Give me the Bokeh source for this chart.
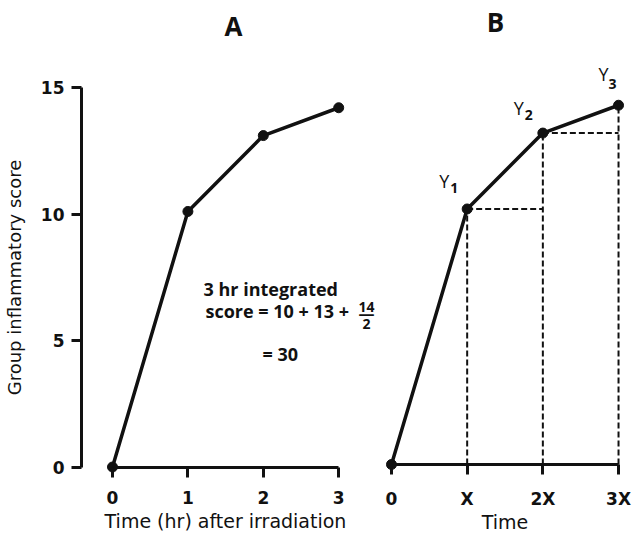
from bokeh.plotting import figure
from bokeh.layouts import row
from bokeh.models import Label, FixedTicker
from bokeh.embed import file_html
from bokeh.resources import INLINE

# ---- data ----
time_hr = [0, 1, 2, 3]
score = [0, 10.1, 13.1, 14.2]
y_ticks = [0, 5, 10, 15]
x_tick_labels_a = ["0", "1", "2", "3"]
x_tick_labels_b = ["0", "X", "2X", "3X"]
point_letters = ["Y", "Y", "Y"]
point_subscripts = ["1", "2", "3"]

AX_FONT = "DejaVu Sans"
TXT_FONT = "Open Sans"
BLACK = "#111111"


def base_fig(**kw):
    p = figure(output_backend="svg", toolbar_location=None,
               min_border_left=0, min_border_right=0,
               min_border_top=0, min_border_bottom=0, **kw)
    p.grid.visible = False
    p.outline_line_color = None
    p.background_fill_color = "white"
    p.border_fill_color = "white"
    return p


def style_xaxis(p, labels, axis_label, tick_standoff, label_standoff):
    ax = p.xaxis[0]
    ax.fixed_location = 0
    ax.ticker = FixedTicker(ticks=time_hr)
    ax.major_label_overrides = {t: l for t, l in zip(time_hr, labels)}
    ax.bounds = (time_hr[0], time_hr[-1])
    ax.axis_line_width = 3
    ax.axis_line_color = BLACK
    ax.major_tick_line_width = 3
    ax.major_tick_line_color = BLACK
    ax.major_tick_out = 10
    ax.major_tick_in = 0
    ax.minor_tick_line_color = None
    ax.major_label_standoff = tick_standoff
    ax.major_label_text_font = AX_FONT
    ax.major_label_text_font_size = "17px"
    ax.major_label_text_font_style = "bold"
    ax.major_label_text_color = BLACK
    ax.axis_label = axis_label
    ax.axis_label_text_font = AX_FONT
    ax.axis_label_text_font_size = "19px"
    ax.axis_label_text_font_style = "normal"
    ax.axis_label_text_color = BLACK
    ax.axis_label_standoff = label_standoff


# ---------------- Panel A ----------------
pA = base_fig(frame_width=376, frame_height=534,
              x_range=(-1.4854, 3.5013), y_range=(-2.668, 18.439))

style_xaxis(pA, x_tick_labels_a, "Time (hr) after irradiation", 14, 2)

ya = pA.yaxis[0]
ya.fixed_location = -0.411
ya.ticker = FixedTicker(ticks=y_ticks)
ya.bounds = (y_ticks[0], y_ticks[-1])
ya.axis_line_width = 3
ya.axis_line_color = BLACK
ya.major_tick_line_width = 3
ya.major_tick_line_color = BLACK
ya.major_tick_out = 10
ya.major_tick_in = 0
ya.minor_tick_line_color = None
ya.major_label_standoff = 7
ya.major_label_text_font = AX_FONT
ya.major_label_text_font_size = "17px"
ya.major_label_text_font_style = "bold"
ya.major_label_text_color = BLACK
ya.axis_label = "Group inflammatory score"
ya.axis_label_text_font = AX_FONT
ya.axis_label_text_font_size = "18px"
ya.axis_label_text_font_style = "normal"
ya.axis_label_text_color = BLACK
ya.axis_label_standoff = 13

pA.line(time_hr, score, line_width=3.5, line_color=BLACK)
pA.scatter(time_hr, score, size=10, fill_color=BLACK, line_color=BLACK)

pA.add_layout(Label(x=1.605, y=17.42, text="A", text_font=TXT_FONT, text_font_size="26px",
                    text_font_style="bold", text_color=BLACK,
                    text_align="center", text_baseline="alphabetic"))

ann_style = dict(text_font=TXT_FONT, text_font_size="18px", text_font_style="bold",
                 text_color=BLACK, text_baseline="alphabetic", text_align="left")
pA.add_layout(Label(x=1.207, y=7.02, text="3 hr  integrated", **ann_style))
pA.add_layout(Label(x=1.233, y=6.18, text="score = 10 + 13 +", **ann_style))
pA.add_layout(Label(x=1.989, y=4.48, text="= 30", **ann_style))
frac_style = dict(text_font=TXT_FONT, text_font_style="bold",
                  text_color=BLACK, text_baseline="alphabetic", text_align="center")
pA.add_layout(Label(x=3.369, y=6.33, text="14", text_font_size="14px", **frac_style))
pA.add_layout(Label(x=3.369, y=5.66, text="2", text_font_size="14px", **frac_style))
pA.add_layout(Label(x=3.369, y=6.10, text="\u2014", text_font_size="16px", **frac_style))

# ---------------- Panel B ----------------
pB = base_fig(frame_width=258, frame_height=534,
              x_range=(-0.198, 3.211), y_range=(-2.767, 18.34),
              y_axis_location=None)

style_xaxis(pB, x_tick_labels_b, "Time", 15, -2)

# dashed construction lines (vertical drops and horizontal steps)
n = len(time_hr)
pB.segment(x0=time_hr[1:], y0=[0] * (n - 1), x1=time_hr[1:], y1=score[1:],
           line_width=2, line_color=BLACK, line_dash="6 3")
pB.segment(x0=time_hr[1:n - 1], y0=score[1:n - 1], x1=time_hr[2:], y1=score[1:n - 1],
           line_width=2, line_color=BLACK, line_dash="6 3")

pB.line(time_hr, score, line_width=3.5, line_color=BLACK)
pB.scatter(time_hr, score, size=10, fill_color=BLACK, line_color=BLACK)

letter_offsets = [(-23, 28), (-24, 25), (-15, 31)]
sub_offsets = [(-13, 21), (-14, 18), (-6, 21)]
for i in range(3):
    xi, yi = time_hr[i + 1], score[i + 1]
    lx, ly = letter_offsets[i]
    sx, sy = sub_offsets[i]
    pB.add_layout(Label(x=xi, y=yi, x_offset=lx, y_offset=ly, text=point_letters[i],
                        text_font=TXT_FONT, text_font_size="18px", text_color=BLACK,
                        text_align="center", text_baseline="middle"))
    pB.add_layout(Label(x=xi, y=yi, x_offset=sx, y_offset=sy, text=point_subscripts[i],
                        text_font=TXT_FONT, text_font_size="14px", text_font_style="bold",
                        text_color=BLACK, text_align="center", text_baseline="middle"))

pB.add_layout(Label(x=1.374, y=17.48, text="B", text_font=TXT_FONT, text_font_size="26px",
                    text_font_style="bold", text_color=BLACK,
                    text_align="center", text_baseline="alphabetic"))

layout = row(pA, pB, spacing=0)
open("out.html", "w").write(file_html(layout, INLINE))
